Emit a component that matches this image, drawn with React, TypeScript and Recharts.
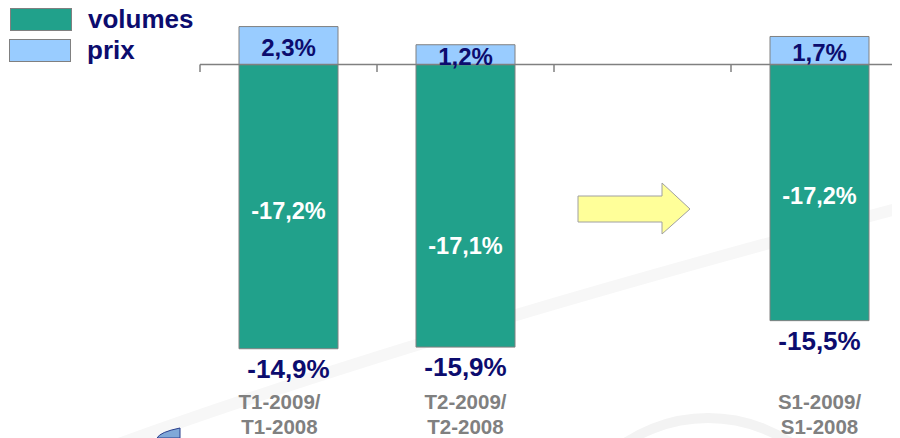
import React from "react";
import { BarChart, Bar, XAxis, YAxis, ReferenceLine, LabelList, Legend } from "recharts";

const CATEGORY_KEYS = ["c0", "c1", "c2", "c3"];
const CATEGORY_LINE1 = ["T1-2009/", "T2-2009/", "", "S1-2009/"];
const CATEGORY_LINE2 = ["T1-2008", "T2-2008", "", "S1-2008"];
const VOLUMES = [-17.2, -17.1, null, -15.5];
const PRIX = [2.3, 1.2, null, 1.7];
const VOLUME_LABELS = ["-17,2%", "-17,1%", "", "-17,2%"];
const PRIX_LABELS = ["2,3%", "1,2%", "", "1,7%"];
const TOTAL_LABELS = ["-14,9%", "-15,9%", "", "-15,5%"];
const SERIES_NAMES = ["volumes", "prix"];

const TEAL = "#21A18B";
const LIGHT_BLUE = "#99CCFF";
const NAVY = "#0C0C6E";
const GREY = "#808080";
const FONT = "'Liberation Sans', Arial, sans-serif";

// styling offsets (not data)
const INNER_SHIFT = [4, 40, 0, 3];
const CAT_SHIFT = [-9, 0, 0, 0];

const data = CATEGORY_KEYS.map((k, i) => ({
  key: k,
  volumes: VOLUMES[i],
  prix: PRIX[i],
}));

const idxOf = (v: any) => CATEGORY_KEYS.indexOf(String(v));

const CategoryTick = (props: any) => {
  const { x, y, payload } = props;
  const i = idxOf(payload?.value);
  if (i < 0) return null;
  return (
    <g>
      <text
        x={x + CAT_SHIFT[i]}
        y={y}
        textAnchor="middle"
        fontFamily={FONT}
        fontWeight="bold"
        fontSize={20.5}
        fill={GREY}
      >
        <tspan x={x + CAT_SHIFT[i]} dy={14}>{CATEGORY_LINE1[i]}</tspan>
        <tspan x={x + CAT_SHIFT[i]} dy={25}>{CATEGORY_LINE2[i]}</tspan>
      </text>
    </g>
  );
};

const VolumeLabel = (props: any) => {
  const { x, y, width, height, value } = props;
  const i = idxOf(value);
  if (i < 0 || VOLUME_LABELS[i] === "" || x == null) return null;
  const top = Math.min(y, y + height);
  const bottom = Math.max(y, y + height);
  const cx = x + width / 2;
  return (
    <g>
      <text
        x={cx}
        y={(top + bottom) / 2 + INNER_SHIFT[i]}
        textAnchor="middle"
        dominantBaseline="central"
        fontFamily={FONT}
        fontWeight="bold"
        fontSize={23.5}
        fill="#FFFFFF"
      >
        {VOLUME_LABELS[i]}
      </text>
      <text
        x={cx}
        y={bottom + 20}
        textAnchor="middle"
        dominantBaseline="central"
        fontFamily={FONT}
        fontWeight="bold"
        fontSize={26}
        fill={NAVY}
      >
        {TOTAL_LABELS[i]}
      </text>
    </g>
  );
};

const PrixLabel = (props: any) => {
  const { x, y, width, height, value } = props;
  const i = idxOf(value);
  if (i < 0 || PRIX_LABELS[i] === "" || x == null) return null;
  const top = Math.min(y, y + height);
  const bottom = Math.max(y, y + height);
  return (
    <text
      x={x + width / 2}
      y={(top + bottom) / 2 + 2}
      textAnchor="middle"
      dominantBaseline="central"
      fontFamily={FONT}
      fontWeight="bold"
      fontSize={24}
      fill={NAVY}
    >
      {PRIX_LABELS[i]}
    </text>
  );
};

const LegendContent = () => {
  const colors = [TEAL, LIGHT_BLUE];
  return (
    <div style={{ position: "relative", width: 220, height: 62 }}>
      {SERIES_NAMES.map((name, i) => (
        <div key={name} style={{ position: "absolute", left: 0, top: i * 31, height: 28, display: "flex", alignItems: "center" }}>
          <div
            style={{
              width: 60,
              height: 21,
              background: colors[i],
              border: `1px solid ${GREY}`,
              marginLeft: i === 0 ? 2 : 1,
            }}
          />
          <span
            style={{
              marginLeft: 16,
              fontFamily: FONT,
              fontWeight: "bold",
              fontSize: 26,
              color: NAVY,
              lineHeight: "28px",
            }}
          >
            {name}
          </span>
        </div>
      ))}
    </div>
  );
};

export default function App() {
  return (
    <div style={{ position: "relative", width: 892, height: 430, overflow: "hidden" }}>
      <svg style={{ position: "absolute", left: 0, top: 0, pointerEvents: "none" }} width={892} height={430}>
        <path d="M 100 440 Q 400 330 892 200" stroke="#F7F7F7" strokeWidth={12} fill="none" />
        <circle cx={700} cy={560} r={150} stroke="#F3F3F3" strokeWidth={10} fill="none" />
        <path d="M 149 430 Q 152 424 172 420 L 172 430 Z" fill="#7FA8D8" stroke="#2A3E8C" strokeWidth={1} />
      </svg>
      <BarChart
        width={910}
        height={430}
        data={data}
        stackOffset="sign"
        margin={{ top: 7, right: 10, bottom: 0, left: 192 }}
        style={{ position: "absolute", left: 0, top: 0 }}
      >
        <XAxis
          dataKey="key"
          axisLine={false}
          tickLine={false}
          tickSize={0}
          tickMargin={0}
          height={43}
          interval={0}
          tick={<CategoryTick />}
        />
        <YAxis hide domain={[-20, 3]} allowDataOverflow />
        <ReferenceLine y={0} stroke={GREY} strokeWidth={1.5} />
        {CATEGORY_KEYS.map((k) => (
          <ReferenceLine
            key={k}
            position="start"
            stroke={GREY}
            strokeWidth={1.5}
            segment={[{ x: k, y: 0 }, { x: k, y: -0.45 }]}
          />
        ))}
        <Legend
          layout="vertical"
          align="center"
          verticalAlign="middle"
          wrapperStyle={{ top: -3, left: 0, width: 220 }}
          content={<LegendContent />}
        />
        <Bar
          dataKey="volumes"
          name={SERIES_NAMES[0]}
          stackId="a"
          fill={TEAL}
          stroke={GREY}
          strokeWidth={1}
          barSize={99}
          isAnimationActive={false}
        >
          <LabelList dataKey="key" content={<VolumeLabel />} />
        </Bar>
        <Bar
          dataKey="prix"
          name={SERIES_NAMES[1]}
          stackId="a"
          fill={LIGHT_BLUE}
          stroke={GREY}
          strokeWidth={1}
          barSize={99}
          isAnimationActive={false}
        >
          <LabelList dataKey="key" content={<PrixLabel />} />
        </Bar>
      </BarChart>
      <svg style={{ position: "absolute", left: 0, top: 0, pointerEvents: "none" }} width={892} height={430}>
        <polygon
          points="570,188 654,188 654,175 682,201 654,226 654,214 570,214"
          fill="#FFFF99"
          stroke="#A0A0A0"
          strokeWidth={1}
        />
      </svg>
    </div>
  );
}
